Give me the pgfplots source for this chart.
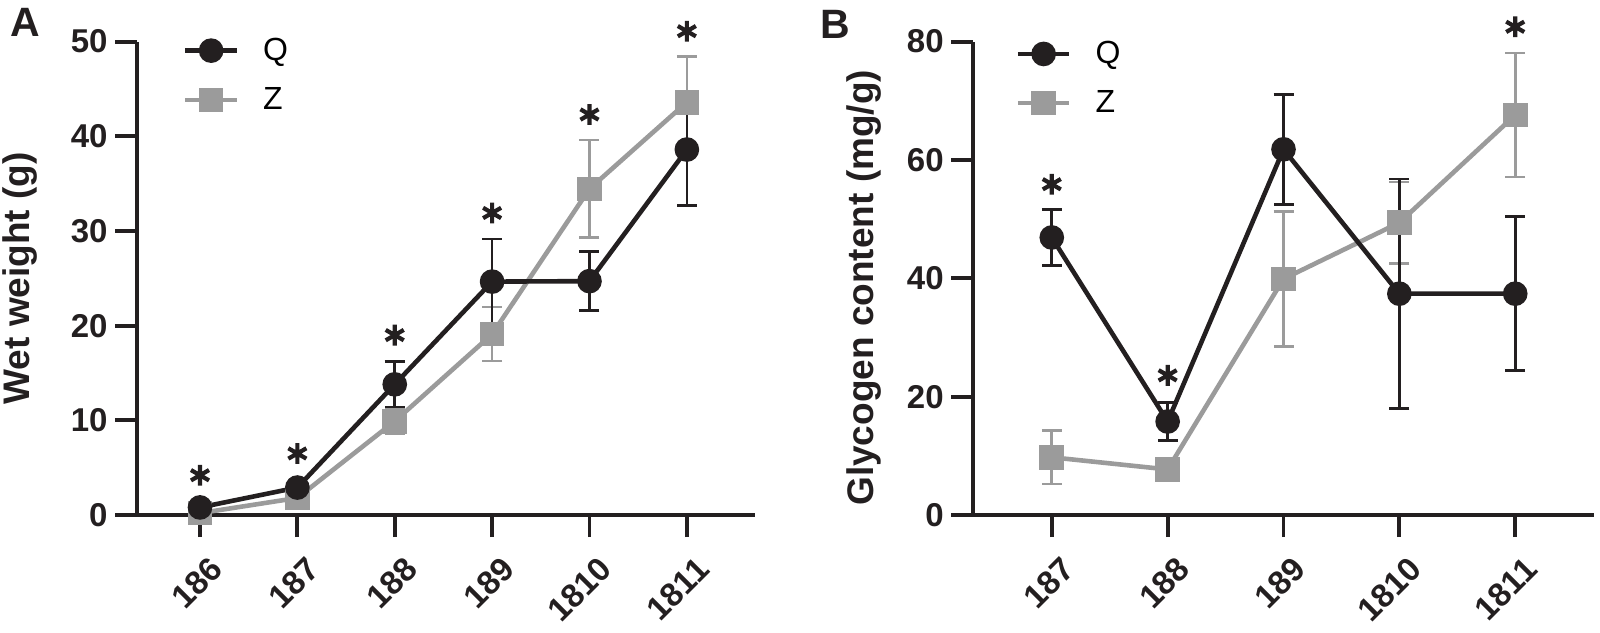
\documentclass[border=0pt]{standalone}
\usepackage{fontspec}
\setmainfont{Liberation Sans}
\usepackage{pgfplots}
\pgfplotsset{compat=1.18}
\definecolor{qcol}{HTML}{231F20}
\definecolor{zcol}{HTML}{9B9B9B}

\pgfplotsset{
  panel/.style={
    scale only axis, height=236.7pt,
    axis x line*=bottom, axis y line*=left,
    axis line style={-, line width=1.9pt, color=qcol},
    every tick/.style={line width=1.9pt, color=qcol},
    tick align=outside, major tick length=11pt,
    ymin=0, clip=false,
    /pgf/number format/assume math mode=true,
    ticklabel style={font=\fontsize{16.5}{19}\selectfont\bfseries, color=qcol},
    yticklabel style={inner sep=3.5pt},
    xticklabel style={xshift=4pt, yshift=-9pt, rotate=45, anchor=north east, inner sep=0pt},
    label style={font=\fontsize{18.5}{22}\selectfont\bfseries, color=qcol},
    legend style={draw=none, fill=none, inner sep=0pt,
      font=\fontsize{16}{19}\selectfont, row sep=8pt, anchor=north west,
      /tikz/every odd column/.append style={column sep=10pt}},
    legend cell align=left,
    legend image code/.code={\draw[##1, mark repeat=2, mark phase=2]
      plot coordinates {(0pt,0pt) (12.85pt,0pt) (25.7pt,0pt)};},
  },
  qline/.style={color=qcol, line width=2.3pt, mark=*, mark size=5pt,
    mark options={solid, fill=qcol}},
  zline/.style={color=zcol, line width=2.3pt, mark=square*, mark size=5pt,
    mark options={solid, fill=zcol}},
  ebars/.style={error bars/y dir=both, error bars/y explicit,
    error bars/error mark=-,
    error bars/error bar style={line width=1.3pt},
    error bars/error mark options={rotate=90, line width=1.3pt, mark size=5pt}},
  stars/.style={only marks, mark=asterisk, mark size=5.2pt, color=qcol,
    mark options={line width=2.1pt}},
}

\begin{document}
\begin{tikzpicture}
\path[use as bounding box] (0,0) rectangle (800pt,316pt);

\begin{axis}[panel, at={(68.5pt,58.5pt)}, anchor=south west, width=309pt,
  xmin=-0.647, xmax=5.70, ymax=50, ytick={0,10,...,50},
  xtick={0,...,5}, xticklabels={186,187,188,189,1810,1811},
  ylabel={Wet weight (g)},
  ylabel style={at={(axis description cs:-0.19,0.5)}, anchor=center},
  legend style={at={(0.074,1.017)}},
]
\addlegendimage{qline}\addlegendentry{Q}
\addlegendimage{zline}\addlegendentry{Z}
\addplot[zline, ebars, forget plot] coordinates {
  (0,0.2) +- (0,0.3)
  (1,1.8) +- (0,0.5)
  (2,9.9) +- (0,1.3)
  (3,19.1) +- (0,2.85)
  (4,34.45) +- (0,5.15)
  (5,43.6) +- (0,4.8)
};
\addplot[qline, ebars, forget plot] coordinates {
  (0,0.8) +- (0,0.4)
  (1,2.9) +- (0,0.6)
  (2,13.8) +- (0,2.4)
  (3,24.65) +- (0,4.5)
  (4,24.7) +- (0,3.1)
  (5,38.6) +- (0,5.9)
};
\addplot[stars, forget plot] coordinates {
  (0,4.2) (1,6.5) (2,19.0) (3,31.9) (4,42.3) (5,51.1)
};
\end{axis}

\begin{axis}[panel, at={(486.5pt,58.5pt)}, anchor=south west, width=310.5pt,
  xmin=-0.68, xmax=4.68, ymax=80, ytick={0,20,...,80},
  xtick={0,...,4}, xticklabels={187,188,189,1810,1811},
  ylabel={Glycogen content (mg/g)},
  ylabel style={at={(axis description cs:-0.176,0.48)}, anchor=center},
  legend style={at={(0.068,1.01)}},
]
\addlegendimage{qline}\addlegendentry{Q}
\addlegendimage{zline}\addlegendentry{Z}
\addplot[zline, ebars, forget plot] coordinates {
  (0,9.75) +- (0,4.5)
  (1,7.7) +- (0,0.6)
  (2,39.9) +- (0,11.4)
  (3,49.4) +- (0,6.9)
  (4,67.6) +- (0,10.45)
};
\addplot[qline, ebars, forget plot] coordinates {
  (0,46.9) +- (0,4.7)
  (1,15.8) +- (0,3.2)
  (2,61.8) +- (0,9.3)
  (3,37.4) +- (0,19.4)
  (4,37.4) +- (0,13.0)
};
\addplot[stars, forget plot] coordinates {
  (0,55.9) (1,23.6) (4,82.5)
};
\end{axis}

\node[font=\fontsize{20.5}{24}\selectfont\bfseries, color=qcol] at (12.8pt,305pt) {A};
\node[font=\fontsize{20.5}{24}\selectfont\bfseries, color=qcol] at (417.8pt,304pt) {B};
\end{tikzpicture}
\end{document}
